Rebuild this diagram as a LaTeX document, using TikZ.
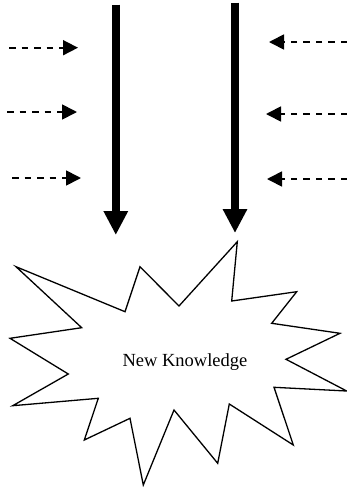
\documentclass[tikz,border=0pt]{standalone}
\usepackage{fontspec}
\setmainfont{Liberation Serif}
\usetikzlibrary{arrows.meta}

\tikzset{
  flow/.style={draw,line width=7.5pt,-{Triangle[width=23pt,length=24pt]}},
  feed/.style={draw,line width=1.7pt,dash pattern=on 6.5pt off 6pt,-{Triangle[width=15pt,length=15pt]}},
  burst/.style={draw,line width=1.3pt,line join=miter}
}

\begin{document}
\begin{tikzpicture}[x=1pt,y=-1pt]
      \useasboundingbox (0,0) rectangle (347,488);

      % main flows
      \coordinate (lt) at (115.8,4.5);
      \coordinate (lb) at (115.8,235);
      \coordinate (rt) at (235,2.7);
      \coordinate (rb) at (235,233);

      % side inputs
      \coordinate (a1) at (9,47.7);   \coordinate (a1e) at (78,47.7);
      \coordinate (a2) at (7,112);    \coordinate (a2e) at (77,112);
      \coordinate (a3) at (12,178);   \coordinate (a3e) at (81,178);
      \coordinate (b1) at (347,42);   \coordinate (b1e) at (269,42);
      \coordinate (b2) at (347,114);  \coordinate (b2e) at (266,114);
      \coordinate (b3) at (347,179);  \coordinate (b3e) at (267,179);

      \begin{scope}[every edge/.style={flow}]
        \path (lt) edge (lb);
        \path (rt) edge (rb);
      \end{scope}

      \begin{scope}[every edge/.style={feed}]
        \path (a1) edge (a1e);
        \path (a2) edge (a2e);
        \path (a3) edge (a3e);
        \path (b1) edge (b1e);
        \path (b2) edge (b2e);
        \path (b3) edge (b3e);
      \end{scope}

      % the burst
      \draw[burst] (237.3,241.7) -- (231.7,301) -- (296.7,291.7) -- (271.7,323.3)
        -- (340,333.3) -- (286,359.3) -- (346.7,391) -- (274,387.3)
        -- (293.3,445) -- (229.3,404) -- (217.7,463.3) -- (174,410)
        -- (143.3,485) -- (130,418.3) -- (84.3,440) -- (98.3,398.3)
        -- (12.7,405.7) -- (68.3,374) -- (10,338.3) -- (81.7,327.7)
        -- (16,266.7) -- (125,311.7) -- (140,266.7) -- (179,306) -- cycle;

      \node (nk) at (185,361.7) {\fontsize{18.5}{22}\selectfont New Knowledge};

    \end{tikzpicture}
\end{document}
